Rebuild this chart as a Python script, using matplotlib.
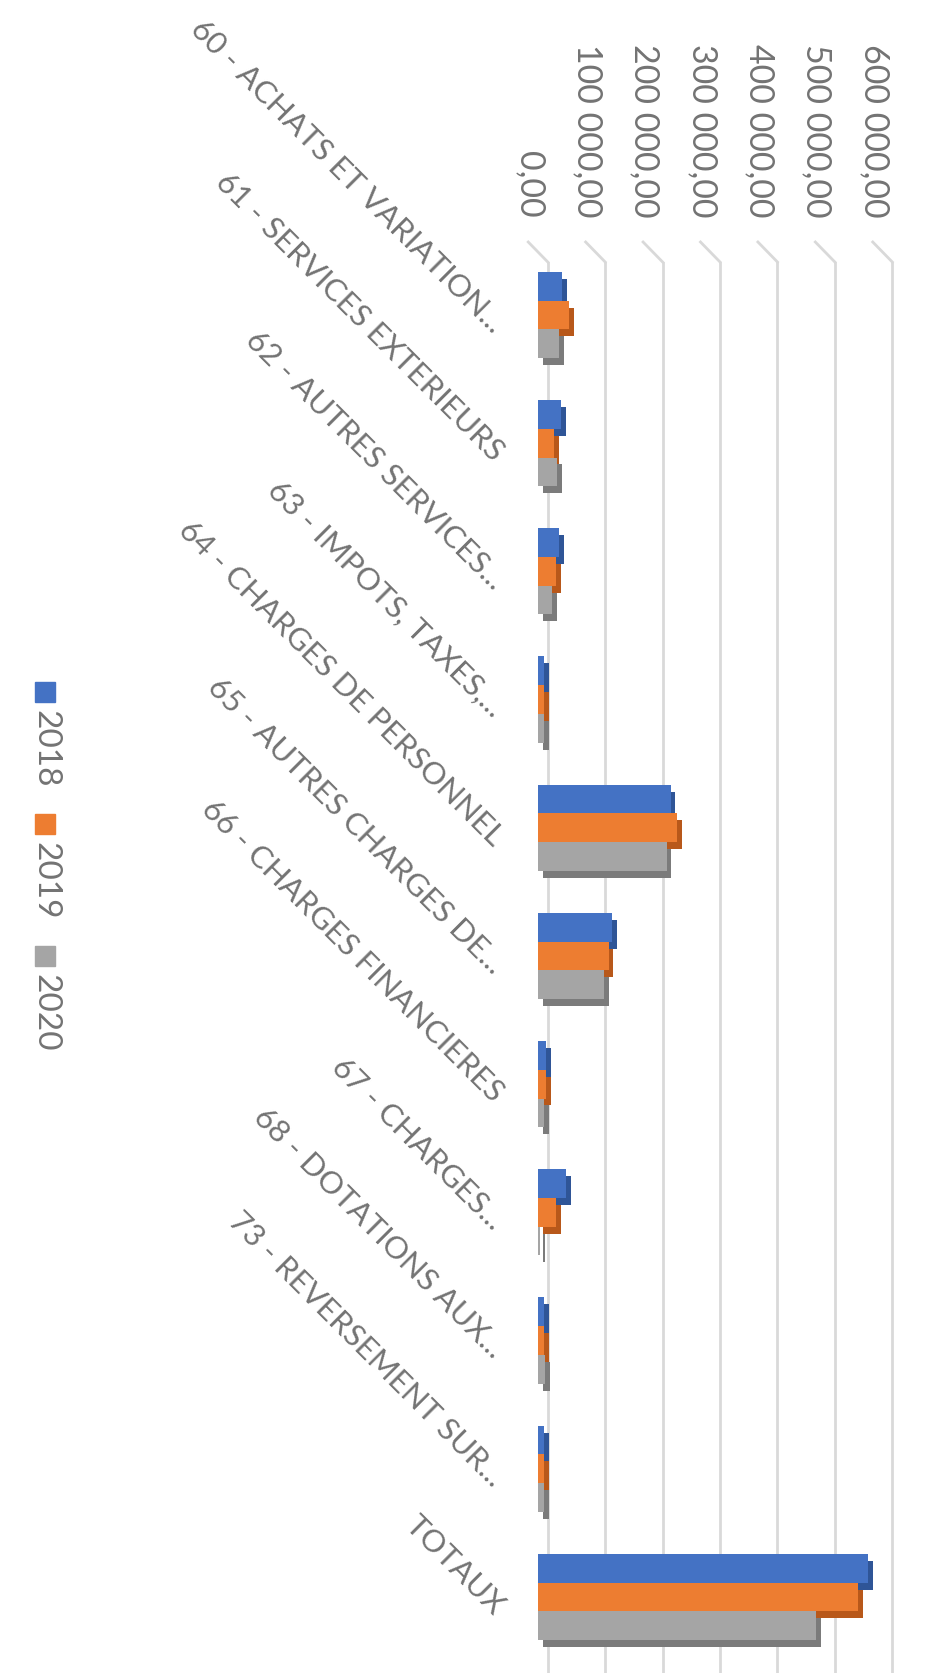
import numpy as np
import matplotlib
matplotlib.use('Agg')
import matplotlib.pyplot as plt
import matplotlib.patheffects as pe
from matplotlib.patches import Rectangle

plt.rcParams['font.family'] = ['Lato', 'DejaVu Sans']

# data
categories = ['60 - ACHATS ET VARIATION...', '61 - SERVICES EXTERIEURS',
              '62 - AUTRES SERVICES...', '63 - IMPOTS, TAXES,...',
              '64 - CHARGES DE PERSONNEL', '65 - AUTRES CHARGES DE...',
              '66 - CHARGES FINANCIERES', '67 - CHARGES...',
              '68 - DOTATIONS AUX...', '73 - REVERSEMENT SUR...', 'TOTAUX']
years = ['2018', '2019', '2020']
v2018 = [42000, 40000, 36000, 10000, 231000, 129000, 14000, 49000, 10000, 10000, 575000]
v2019 = [54000, 28000, 31000, 10000, 242000, 123000, 14000, 31000, 10000, 10000, 558000]
v2020 = [36000, 33000, 24000, 10000, 224000, 115000, 11000, 3000, 12000, 10000, 484000]
ticks = [0, 100000, 200000, 300000, 400000, 500000, 600000]
tick_labels = ['0,00', '100 000,00', '200 000,00', '300 000,00',
               '400 000,00', '500 000,00', '600 000,00']

colors = ['#4472C4', '#ED7D31', '#A5A5A5']
side_colors = ['#2F5597', '#B8581A', '#7B7B7B']
text_col = '#737373'

fig = plt.figure(figsize=(9.4, 16.74), dpi=100)
W, H = 940, 1674
ax = fig.add_axes([538 / W, 0, (894 - 538) / W, 1 - 263 / H])

y = np.arange(len(categories))
bh = 0.224
depth = 17000   # 3d depth of the back wall, in data units
elev = 20 / (H - 263)

# back wall gridlines + the little floor segments at the top
for t in ticks:
    ax.plot([t + depth, t + depth], [0, 1], color='#d9d9d9', lw=2,
            transform=ax.get_xaxis_transform(), zorder=0)
    ax.plot([t - depth, t + depth], [1 + elev, 1], color='#d9d9d9', lw=2,
            transform=ax.get_xaxis_transform(), clip_on=False, zorder=0)

series = [v2018, v2019, v2020]
for i, vals in enumerate(series):
    ax.barh(y + (i - 1) * bh, vals, height=bh, color=colors[i], lw=0,
            label=years[i], zorder=2,
            path_effects=[pe.SimplePatchShadow(offset=(3.5, -5),
                                               shadow_rgbFace=side_colors[i],
                                               alpha=1),
                          pe.Normal()])

ax.set_xlim(0, 620000)
ax.set_ylim(10.593, -0.413)

ax.xaxis.tick_top()
ax.set_xticks(ticks)
ax.set_xticklabels(tick_labels, rotation=-90, ha='center', va='bottom',
                   fontsize=24.5, color=text_col)
ax.tick_params(axis='x', length=0, pad=33)
for lbl in ax.get_xticklabels():
    lbl.set_transform(lbl.get_transform() +
                      matplotlib.transforms.ScaledTranslation(-8 / 100, 0, fig.dpi_scale_trans))

ax.set_yticks(y)
ax.set_yticklabels(categories, rotation=-45, ha='right', va='center',
                   rotation_mode='anchor', fontsize=22.5, color=text_col)
ax.tick_params(axis='y', length=0, pad=28)
for lbl in ax.get_yticklabels():
    lbl.set_transform(lbl.get_transform() +
                      matplotlib.transforms.ScaledTranslation(0, -12 / 100, fig.dpi_scale_trans))

for s in ax.spines.values():
    s.set_visible(False)

# legend, drawn sideways like the rest of the chart
for i, name in enumerate(years):
    top = 683 + i * 132
    fig.patches.append(Rectangle((35 / W, 1 - (top + 20) / H), 20 / W, 20 / H,
                                 color=colors[i], transform=fig.transFigure))
    fig.text(45 / W, 1 - (top + 27) / H, name, rotation=-90, ha='center',
             va='top', fontsize=24, color=text_col)

fig.savefig('out.png', dpi=100, facecolor='white')
